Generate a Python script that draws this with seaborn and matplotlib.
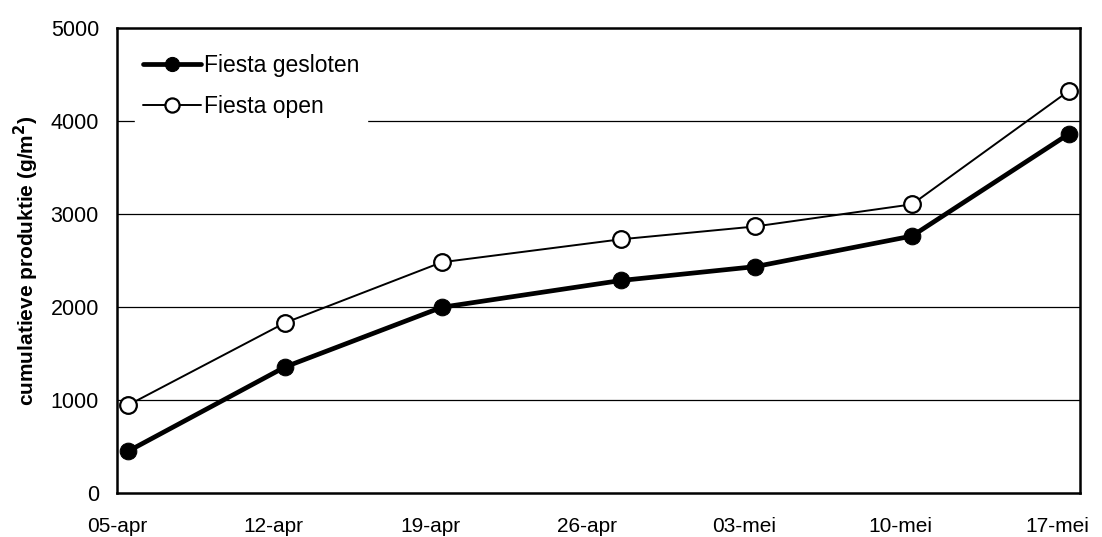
import pandas as pd
import numpy as np
import seaborn as sns
import matplotlib.pyplot as plt
import matplotlib.dates as mdates
from matplotlib.ticker import FuncFormatter

# cumulatieve produktie per datum (g/m2)
dates = ['2004-04-05', '2004-04-12', '2004-04-19', '2004-04-27',
         '2004-05-03', '2004-05-10', '2004-05-17']
gesloten = [450, 1355, 1997, 2285, 2434, 2763, 3860]
open_ = [946, 1830, 2481, 2728, 2866, 3104, 4323]
tick_dates = ['2004-04-05', '2004-04-12', '2004-04-19', '2004-04-26',
              '2004-05-03', '2004-05-10', '2004-05-17']
maanden = {4: 'apr', 5: 'mei'}

df = pd.DataFrame({
    'datum': pd.to_datetime(dates) + pd.Timedelta(hours=12),  # excel zet punten midden op de dag
    'Fiesta gesloten': gesloten,
    'Fiesta open': open_,
})

sns.set_style('white')
plt.rcParams['font.family'] = ['Liberation Sans', 'DejaVu Sans']
plt.rcParams['text.color'] = 'black'
plt.rcParams['axes.labelcolor'] = 'black'

fig = plt.figure(figsize=(11.02, 5.37), dpi=100)
ax = fig.add_axes([0.1062, 0.0819, 0.8738, 0.866])

sns.lineplot(data=df, x='datum', y='Fiesta gesloten', ax=ax, color='black',
             linewidth=3.4, marker='o', markersize=12, markerfacecolor='black',
             markeredgecolor='black', label='Fiesta gesloten', zorder=4)
sns.lineplot(data=df, x='datum', y='Fiesta open', ax=ax, color='black',
             linewidth=1.4, marker='o', markersize=12, markerfacecolor='white',
             markeredgecolor='black', markeredgewidth=1.6, label='Fiesta open', zorder=4)

ax.set_ylim(0, 5000)
ax.set_yticks(range(0, 5001, 1000))
ax.set_xlim(pd.Timestamp('2004-04-05'), pd.Timestamp('2004-05-18'))
ax.set_xticks(pd.to_datetime(tick_dates))
ax.xaxis.set_major_formatter(FuncFormatter(
    lambda v, p: '%02d-%s' % (mdates.num2date(v).day, maanden[mdates.num2date(v).month])))

for y in range(1000, 5000, 1000):
    ax.axhline(y, color='black', linewidth=0.9, zorder=1)

for s in ax.spines.values():
    s.set_color('black')
    s.set_linewidth(1.8)

ax.tick_params(axis='x', direction='in', length=5, width=1, pad=17, labelsize=15, colors='black')
ax.tick_params(axis='y', length=0, pad=13, labelsize=15.5, colors='black')

ax.set_xlabel('')
ax.set_ylabel(r'cumulatieve produktie (g/m$^\mathbf{2}$)', fontsize=15, fontweight='bold',
              labelpad=7, color='black')

leg = ax.legend(loc='upper left', bbox_to_anchor=(0.019, 0.962), frameon=True, fontsize=16.5,
                handlelength=2.5, handletextpad=0.15, borderpad=0.35, labelspacing=0.82,
                borderaxespad=0, markerscale=0.85)
leg.get_frame().set_facecolor('white')
leg.get_frame().set_edgecolor('white')
leg.get_frame().set_alpha(1)
leg.get_frame().set_boxstyle('square', pad=0)
leg.set_zorder(5)
for t in leg.get_texts():
    t.set_color('black')

plt.savefig('out.png', dpi=100)
